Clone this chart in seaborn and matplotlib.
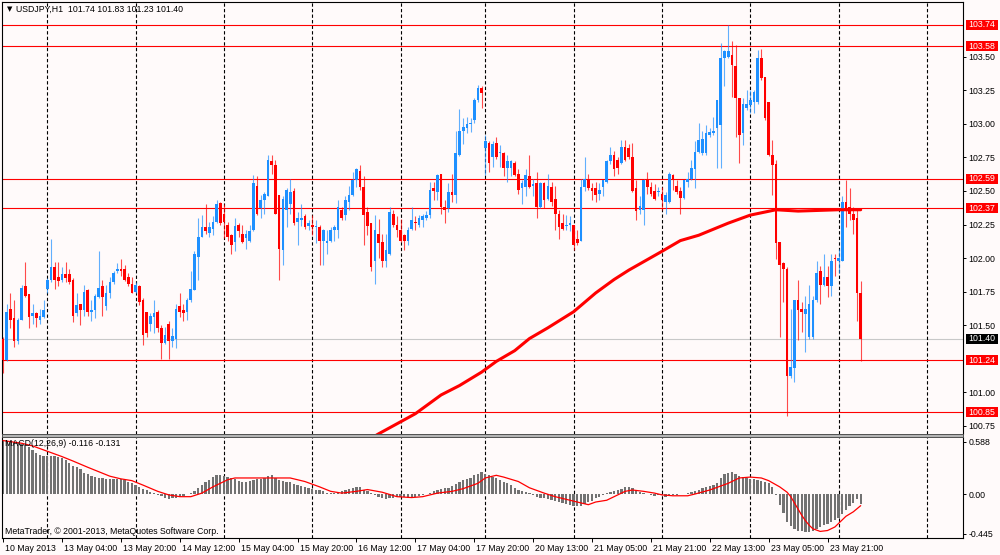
import numpy as np
import matplotlib
matplotlib.use("Agg")
import matplotlib.pyplot as plt
import seaborn as sns
from matplotlib.patches import Rectangle
from matplotlib.transforms import ScaledTranslation, blended_transform_factory

# USDJPY H1 candles, 10 May 11:00 .. 24 May 06:00
opens = [
    101.40, 101.24, 101.62, 101.55, 101.38, 101.54, 101.79, 101.73, 101.57, 101.59, 101.54, 101.56,
    101.77, 101.84, 101.93, 101.86, 101.84, 101.88, 101.88, 101.84, 101.59, 101.66, 101.61, 101.76,
    101.60, 101.61, 101.71, 101.79, 101.64, 101.74, 101.82, 101.90, 101.92, 101.92, 101.86, 101.81,
    101.75, 101.79, 101.69, 101.60, 101.51, 101.56, 101.60, 101.48, 101.37, 101.51, 101.38, 101.40,
    101.64, 101.61, 101.60, 101.69, 101.76, 102.01, 102.16, 102.23, 102.19, 102.22, 102.27, 102.41,
    102.33, 102.25, 102.17, 102.12, 102.25, 102.18, 102.15, 102.13, 102.21, 102.54, 102.37, 102.43,
    102.46, 102.72, 102.69, 102.47, 102.06, 102.36, 102.40, 102.50, 102.27, 102.28, 102.31, 102.24,
    102.25, 102.23, 102.23, 102.13, 102.11, 102.13, 102.21, 102.21, 102.36, 102.32, 102.42, 102.47,
    102.58, 102.65, 102.53, 102.34, 102.26, 101.98, 102.18, 102.12, 101.98, 102.03, 102.33, 102.25,
    102.21, 102.17, 102.13, 102.22, 102.27, 102.25, 102.28, 102.30, 102.32, 102.52, 102.49, 102.63,
    102.38, 102.37, 102.49, 102.47, 102.77, 102.95, 102.97, 103.00, 103.03, 103.18, 103.27, 102.82,
    102.86, 102.75, 102.86, 102.78, 102.78, 102.67, 102.67, 102.71, 102.63, 102.52, 102.53, 102.61,
    102.54, 102.56, 102.38, 102.56, 102.44, 102.53, 102.44, 102.33, 102.26, 102.24, 102.25, 102.25,
    102.14, 102.13, 102.53, 102.58, 102.52, 102.52, 102.48, 102.53, 102.57, 102.72, 102.77, 102.73,
    102.71, 102.83, 102.82, 102.75, 102.52, 102.36, 102.36, 102.58, 102.53, 102.50, 102.49, 102.48,
    102.42, 102.42, 102.62, 102.54, 102.50, 102.45, 102.57, 102.59, 102.66, 102.79, 102.78, 102.78,
    102.92, 102.93, 102.97, 102.99, 103.49, 103.50, 103.51, 103.43, 103.19, 102.93, 103.12, 103.14,
    103.16, 103.16, 103.49, 103.35, 103.16, 102.77, 102.70, 102.12, 101.96, 101.92, 101.12, 101.18,
    101.69, 101.62, 101.58, 101.41, 101.41, 101.69, 101.90, 101.80, 101.86, 101.79, 102.00, 101.98,
    101.98, 102.42, 102.38, 102.33, 102.30, 101.74,
]
highs = [
    101.41, 101.66, 101.74, 101.69, 101.55, 101.80, 101.97, 101.73, 101.66, 101.60, 101.62, 101.69,
    101.85, 102.14, 101.97, 101.97, 101.93, 101.97, 101.92, 101.85, 101.74, 101.66, 101.80, 101.77,
    101.69, 101.73, 102.05, 101.84, 101.80, 101.86, 101.90, 101.96, 101.99, 101.95, 101.89, 101.86,
    101.82, 101.80, 101.70, 101.60, 101.59, 101.69, 101.61, 101.50, 101.49, 101.53, 101.48, 101.66,
    101.74, 101.66, 101.70, 101.90, 102.05, 102.30, 102.32, 102.40, 102.27, 102.31, 102.43, 102.42,
    102.40, 102.27, 102.18, 102.30, 102.26, 102.25, 102.21, 102.25, 102.62, 102.61, 102.47, 102.49,
    102.77, 102.77, 102.73, 102.47, 102.46, 102.52, 102.59, 102.52, 102.34, 102.40, 102.33, 102.28,
    102.32, 102.28, 102.25, 102.22, 102.21, 102.23, 102.25, 102.43, 102.38, 102.46, 102.54, 102.64,
    102.67, 102.69, 102.61, 102.38, 102.26, 102.32, 102.29, 102.18, 102.18, 102.38, 102.36, 102.31,
    102.29, 102.18, 102.23, 102.38, 102.31, 102.32, 102.33, 102.35, 102.57, 102.57, 102.63, 102.63,
    102.43, 102.56, 102.63, 102.95, 103.11, 103.04, 103.05, 103.04, 103.19, 103.29, 103.28, 102.92,
    102.87, 102.87, 102.90, 102.84, 102.79, 102.77, 102.73, 102.72, 102.66, 102.58, 102.66, 102.77,
    102.59, 102.64, 102.57, 102.57, 102.63, 102.57, 102.54, 102.36, 102.33, 102.32, 102.31, 102.25,
    102.21, 102.59, 102.75, 102.63, 102.56, 102.57, 102.56, 102.58, 102.73, 102.83, 102.80, 102.75,
    102.88, 102.88, 102.85, 102.86, 102.58, 102.46, 102.59, 102.64, 102.57, 102.55, 102.53, 102.53,
    102.49, 102.64, 102.63, 102.58, 102.53, 102.58, 102.64, 102.73, 102.87, 103.01, 102.95, 102.99,
    102.97, 103.05, 103.18, 103.60, 103.55, 103.74, 103.62, 103.59, 103.19, 103.19, 103.25, 103.25,
    103.25, 103.55, 103.56, 103.35, 103.16, 102.88, 102.73, 102.12, 101.97, 101.93, 101.62, 101.69,
    101.84, 101.67, 101.72, 101.80, 101.72, 101.98, 101.94, 102.03, 101.94, 102.03, 102.03, 102.07,
    102.46, 102.58, 102.52, 102.38, 102.36, 101.83,
]
lows = [
    101.14, 101.23, 101.48, 101.34, 101.36, 101.54, 101.71, 101.48, 101.51, 101.49, 101.51, 101.55,
    101.74, 101.82, 101.77, 101.79, 101.82, 101.82, 101.81, 101.52, 101.57, 101.50, 101.57, 101.57,
    101.53, 101.55, 101.70, 101.57, 101.61, 101.70, 101.81, 101.89, 101.87, 101.83, 101.79, 101.74,
    101.74, 101.65, 101.35, 101.41, 101.46, 101.44, 101.45, 101.25, 101.36, 101.25, 101.34, 101.33,
    101.56, 101.53, 101.54, 101.67, 101.76, 101.84, 102.16, 102.18, 102.16, 102.17, 102.26, 102.25,
    102.15, 102.13, 102.03, 102.05, 102.16, 102.11, 102.07, 102.12, 102.20, 102.32, 102.30, 102.33,
    102.46, 102.63, 102.33, 101.84, 101.95, 102.23, 102.33, 102.25, 102.10, 102.24, 102.22, 102.21,
    102.17, 102.11, 101.95, 101.95, 102.03, 102.12, 102.13, 102.15, 102.28, 102.28, 102.36, 102.46,
    102.53, 102.51, 102.10, 102.17, 101.90, 101.81, 102.00, 101.93, 101.93, 102.02, 102.23, 102.16,
    102.12, 102.06, 102.10, 102.21, 102.21, 102.23, 102.23, 102.28, 102.30, 102.43, 102.43, 102.33,
    102.26, 102.34, 102.42, 102.41, 102.76, 102.85, 102.93, 102.94, 103.01, 103.16, 103.12, 102.62,
    102.64, 102.68, 102.74, 102.68, 102.61, 102.57, 102.61, 102.61, 102.48, 102.40, 102.46, 102.52,
    102.46, 102.30, 102.37, 102.37, 102.43, 102.39, 102.21, 102.14, 102.21, 102.21, 102.20, 102.06,
    102.10, 102.13, 102.50, 102.51, 102.43, 102.42, 102.43, 102.46, 102.56, 102.70, 102.61, 102.63,
    102.70, 102.72, 102.74, 102.49, 102.28, 102.33, 102.25, 102.48, 102.46, 102.43, 102.46, 102.36,
    102.33, 102.41, 102.51, 102.48, 102.33, 102.44, 102.53, 102.58, 102.52, 102.78, 102.77, 102.77,
    102.90, 102.92, 102.67, 102.67, 103.28, 103.49, 103.20, 102.90, 102.71, 102.84, 103.10, 103.08,
    103.08, 103.15, 103.33, 103.03, 102.76, 102.47, 101.99, 101.41, 101.67, 100.82, 101.11, 101.08,
    101.39, 101.45, 101.30, 101.40, 101.40, 101.67, 101.66, 101.79, 101.71, 101.72, 101.87, 101.89,
    101.98, 102.23, 102.28, 102.18, 101.53, 101.23,
]
closes = [
    101.24, 101.60, 101.54, 101.38, 101.54, 101.78, 101.72, 101.56, 101.59, 101.55, 101.57, 101.61,
    101.84, 101.93, 101.84, 101.83, 101.88, 101.85, 101.82, 101.57, 101.65, 101.61, 101.75, 101.60,
    101.61, 101.72, 101.78, 101.71, 101.74, 101.82, 101.89, 101.92, 101.90, 101.84, 101.81, 101.74,
    101.80, 101.67, 101.43, 101.44, 101.57, 101.59, 101.48, 101.37, 101.43, 101.38, 101.42, 101.62,
    101.60, 101.59, 101.69, 101.77, 102.03, 102.16, 102.23, 102.20, 102.23, 102.27, 102.40, 102.26,
    102.27, 102.16, 102.10, 102.24, 102.20, 102.12, 102.18, 102.20, 102.56, 102.33, 102.43, 102.48,
    102.73, 102.69, 102.33, 102.07, 102.44, 102.51, 102.49, 102.26, 102.30, 102.30, 102.23, 102.26,
    102.23, 102.24, 102.13, 102.21, 102.13, 102.21, 102.23, 102.38, 102.30, 102.43, 102.47, 102.58,
    102.66, 102.53, 102.32, 102.24, 101.93, 102.21, 102.11, 101.98, 102.06, 102.34, 102.25, 102.21,
    102.13, 102.13, 102.21, 102.28, 102.26, 102.30, 102.31, 102.32, 102.51, 102.50, 102.62, 102.38,
    102.36, 102.49, 102.47, 102.78, 102.95, 102.98, 103.00, 103.01, 103.18, 103.27, 103.23, 102.87,
    102.71, 102.85, 102.75, 102.79, 102.67, 102.72, 102.72, 102.62, 102.51, 102.56, 102.62, 102.53,
    102.55, 102.38, 102.56, 102.43, 102.54, 102.42, 102.33, 102.23, 102.22, 102.25, 102.26, 102.10,
    102.11, 102.53, 102.59, 102.52, 102.50, 102.47, 102.51, 102.58, 102.72, 102.77, 102.66, 102.67,
    102.83, 102.73, 102.75, 102.50, 102.35, 102.39, 102.58, 102.53, 102.48, 102.44, 102.50, 102.43,
    102.47, 102.63, 102.58, 102.49, 102.45, 102.58, 102.59, 102.67, 102.79, 102.88, 102.89, 102.93,
    102.94, 102.95, 103.18, 103.49, 103.54, 103.54, 103.44, 103.19, 102.92, 103.15, 103.15, 103.18,
    103.24, 103.49, 103.34, 103.04, 102.77, 102.69, 102.11, 101.95, 101.92, 101.12, 101.19, 101.69,
    101.61, 101.60, 101.62, 101.66, 101.69, 101.89, 101.80, 101.86, 101.79, 101.98, 101.99, 102.00,
    102.42, 102.36, 102.33, 102.28, 101.74, 101.40,
]

# moving average (red thick line), anchor points
ma_bars = [99, 102, 108, 112, 119, 124, 130, 134, 139, 143, 148, 155, 161, 166, 170,
           179, 184, 189, 197, 203, 210, 216, 227, 233]
ma_vals = [100.64, 100.69, 100.78, 100.84, 100.98, 101.05, 101.15, 101.23, 101.31, 101.40,
           101.48, 101.60, 101.74, 101.84, 101.91, 102.05, 102.13, 102.17, 102.26, 102.32,
           102.36, 102.35, 102.36, 102.36]

# MACD(12,26,9) histogram, one value per candle
macd_hist = [
    0.59, 0.59, 0.58, 0.58, 0.57, 0.56, 0.55, 0.53, 0.49, 0.46, 0.44, 0.43,
    0.43, 0.43, 0.43, 0.42, 0.40, 0.38, 0.35, 0.32, 0.30, 0.28, 0.24, 0.22,
    0.20, 0.19, 0.18, 0.18, 0.17, 0.17, 0.17, 0.17, 0.17, 0.16, 0.14, 0.12,
    0.10, 0.08, 0.06, 0.045, 0.02, 0.01, -0.01, -0.02, -0.04, -0.06, -0.05, -0.04,
    -0.03, -0.02, 0.00, 0.01, 0.03, 0.07, 0.10, 0.14, 0.16, 0.19, 0.21, 0.21,
    0.20, 0.19, 0.18, 0.17, 0.15, 0.14, 0.14, 0.15, 0.16, 0.17, 0.17, 0.18,
    0.20, 0.21, 0.18, 0.16, 0.15, 0.14, 0.13, 0.11, 0.10, 0.09, 0.08, 0.07,
    0.06, 0.045, 0.04, 0.03, 0.01, 0.01, 0.01, 0.02, 0.03, 0.05, 0.06, 0.07,
    0.08, 0.08, 0.05, 0.03, 0.01, -0.01, -0.03, -0.05, -0.06, -0.05, -0.04, -0.03,
    -0.03, -0.03, -0.04, -0.04, -0.03, -0.02, -0.01, 0.00, 0.01, 0.03, 0.045, 0.06,
    0.065, 0.07, 0.09, 0.11, 0.14, 0.16, 0.17, 0.18, 0.21, 0.23, 0.25, 0.23,
    0.21, 0.19, 0.18, 0.16, 0.14, 0.12, 0.10, 0.07, 0.05, 0.03, 0.02, 0.01,
    -0.01, -0.03, -0.04, -0.05, -0.06, -0.07, -0.08, -0.09, -0.10, -0.11, -0.12, -0.13,
    -0.14, -0.14, -0.11, -0.09, -0.08, -0.05, -0.03, -0.01, 0.01, 0.02, 0.03, 0.05,
    0.06, 0.08, 0.08, 0.07, 0.045, 0.02, 0.01, 0.00, -0.01, -0.02, -0.01, -0.01,
    -0.03, -0.01, -0.01, -0.01, 0.00, 0.00, 0.01, 0.02, 0.03, 0.05, 0.065, 0.08,
    0.09, 0.10, 0.12, 0.18, 0.22, 0.24, 0.25, 0.22, 0.20, 0.19, 0.18, 0.17,
    0.17, 0.16, 0.15, 0.14, 0.12, 0.08, -0.01, -0.12, -0.21, -0.31, -0.36, -0.39,
    -0.42, -0.42, -0.43, -0.43, -0.42, -0.39, -0.37, -0.35, -0.34, -0.31, -0.29, -0.27,
    -0.23, -0.18, -0.14, -0.10, -0.06, -0.116,
]
signal_bars = [0, 5, 8, 12, 16, 19, 23, 26, 29, 32, 35, 38, 42, 45, 48, 51, 54, 57, 61, 63,
               67, 72, 78, 82, 86, 89, 92, 96, 99, 103, 107, 111, 114, 118, 122, 125, 129, 131, 134, 136,
               140, 143, 147, 150, 154, 157, 159, 161, 164, 167, 169, 171, 174, 177, 179, 182, 186, 188, 192, 197,
               200, 203, 206, 208, 211, 213, 214, 215, 216, 217, 218, 219, 220, 222, 224, 226, 227, 229, 231, 233]
signal_vals = [0.60, 0.57, 0.54, 0.48, 0.42, 0.37, 0.30, 0.25, 0.20, 0.17, 0.15, 0.10, 0.03, -0.01, -0.03, -0.03, 0.01, 0.08, 0.16, 0.18,
               0.18, 0.18, 0.18, 0.14, 0.08, 0.03, 0.01, 0.03, 0.05, 0.02, -0.03, -0.04, -0.03, 0.01, 0.03, 0.06, 0.12, 0.18, 0.21, 0.19,
               0.14, 0.07, 0.01, -0.03, -0.07, -0.10, -0.12, -0.09, -0.07, -0.01, 0.03, 0.045, 0.03, 0.01, -0.01, -0.02, -0.02, 0.00, 0.045, 0.12,
               0.18, 0.19, 0.18, 0.15, 0.08, 0.02, -0.03, -0.10, -0.17, -0.24, -0.30, -0.35, -0.39, -0.42, -0.41, -0.37, -0.33, -0.25, -0.20, -0.131]

level_lines = [103.74, 103.58, 102.59, 102.37, 101.24, 100.85]
bid_price = 101.40
price_ticks = [100.75, 101.00, 101.50, 101.75, 102.00, 102.25, 102.50, 102.75, 103.00, 103.25, 103.50]
macd_ticks = [0.588, 0.0, -0.445]
macd_tick_labels = ["0.588", "0.00", "-0.445"]
day_starts = [12, 36, 60, 84, 108, 131, 155, 179, 203, 227, 251]
label_bars = [0, 16, 32, 48, 64, 80, 96, 112, 128, 144, 160, 176, 192, 208, 224]
time_labels = ["10 May 2013", "13 May 04:00", "13 May 20:00", "14 May 12:00", "15 May 04:00",
               "15 May 20:00", "16 May 12:00", "17 May 04:00", "17 May 20:00", "20 May 13:00",
               "21 May 05:00", "21 May 21:00", "22 May 13:00", "23 May 05:00", "23 May 21:00"]

sns.set_theme(style="white")
plt.rcParams["font.family"] = ["Liberation Sans", "DejaVu Sans"]

BG = "#FFFAFA"
UP = "#1E90FF"
DOWN = "#FF0000"
FS = 6.3
W, H = 1000, 555


def px_box(x0, y0, x1, y1):
    return [x0 / W, 1 - y1 / H, (x1 - x0) / W, (y1 - y0) / H]


fig = plt.figure(figsize=(10, 5.55), dpi=100, facecolor=BG)
ax = fig.add_axes(px_box(2, 2, 963, 434), facecolor=BG)
ax2 = fig.add_axes(px_box(2, 437, 963, 538), facecolor=BG)

o, h, l, c = map(np.array, (opens, highs, lows, closes))
x = np.arange(len(o))
up = c >= o
for mask, col in ((up, UP), (~up, DOWN)):
    ax.vlines(x[mask], l[mask], h[mask], color=col, lw=0.8, alpha=0.7, zorder=3)
    body = np.maximum(np.abs(c[mask] - o[mask]), 0.008)
    ax.bar(x[mask], body, bottom=np.minimum(o[mask], c[mask]), width=0.72,
           color=col, lw=0, zorder=4)

for lv in level_lines:
    ax.axhline(lv, color=DOWN, lw=0.8, zorder=2)
ax.axhline(bid_price, color="#C8C8C8", lw=0.8, zorder=1)

sns.lineplot(x=ma_bars, y=ma_vals, ax=ax, color=DOWN, lw=2.2, zorder=5)

for a in (ax, ax2):
    for d in day_starts:
        a.axvline(d, color="black", lw=0.8, ls=(0, (3, 2)), zorder=1)
    a.set_xlim(-0.3, 260.8)
    for s in a.spines.values():
        s.set_color("black")
        s.set_linewidth(0.8)

ax.set_ylim(100.689, 103.908)
ax.set_xticks([])
ax.set_xlabel("")
ax.set_ylabel("")
ax.yaxis.tick_right()
ax.set_yticks(price_ticks)
ax.set_yticklabels([f"{v:.2f}" for v in price_ticks])
ax.tick_params(axis="y", direction="out", length=2.5, width=0.7, pad=1.5,
               labelsize=FS, colors="black")
ax.spines["bottom"].set_visible(False)

# MACD panel
sns.barplot(x=x, y=macd_hist, ax=ax2, native_scale=True, color="#727272",
            width=0.62, errorbar=None, saturation=1, linewidth=0, zorder=2)
sns.lineplot(x=signal_bars, y=signal_vals, ax=ax2, color=DOWN, lw=0.9, zorder=3)
ax2.set_xlim(-0.3, 260.8)
ax2.set_ylim(-0.494, 0.640)
ax2.yaxis.tick_right()
ax2.set_yticks(macd_ticks)
ax2.set_yticklabels(macd_tick_labels)
ax2.tick_params(axis="y", direction="out", length=2.5, width=0.7, pad=1.5,
                labelsize=FS, colors="black")
ax2.set_xticks(label_bars)
ax2.set_xticklabels(time_labels, ha="left")
ax2.tick_params(axis="x", direction="out", length=3, width=0.7, pad=1,
                labelsize=FS, colors="black", bottom=True)
shift = ScaledTranslation(2 / 100, 0, fig.dpi_scale_trans)
for lbl in ax2.get_xticklabels():
    lbl.set_transform(lbl.get_transform() + shift)
ax2.spines["top"].set_visible(False)
ax2.set_xlabel("")
ax2.set_ylabel("")

# separator band between panels
fig.add_artist(Rectangle((2 / W, 1 - 437 / H), 961 / W, 3.5 / H,
                         transform=fig.transFigure, facecolor="#B4B4B4",
                         edgecolor="#505050", lw=0.7))

# price boxes on the right scale
tr = blended_transform_factory(ax.transAxes, ax.transData)
box_x = 964 / 961
box_w = 32 / 961
box_h = 10 / 134.2
for lv in level_lines + [bid_price]:
    fc = "black" if lv == bid_price else DOWN
    ax.add_patch(Rectangle((box_x, lv - box_h / 2), box_w, box_h,
                           transform=tr, facecolor=fc, edgecolor="none",
                           clip_on=False, zorder=6))
    ax.text(box_x + box_w / 2, lv, f"{lv:.2f}", transform=tr, ha="center",
            va="center", fontsize=FS, color="white", zorder=7, clip_on=False)

fig.text(7 / W, 1 - 9.5 / H, "\u25bc", fontsize=5, va="center", ha="left",
         family=["DejaVu Sans"], color="black")
fig.text(16 / W, 1 - 9.5 / H, "USDJPY,H1  101.74 101.83 101.23 101.40",
         fontsize=FS, va="center", ha="left", color="black")
fig.text(5 / W, 1 - 443 / H, "MACD(12,26,9) -0.116 -0.131", fontsize=FS,
         va="center", ha="left", color="black")
fig.text(5 / W, 1 - 532 / H, "MetaTrader, \u00a9 2001-2013, MetaQuotes Software Corp.",
         fontsize=FS, va="center", ha="left", color="black")

fig.savefig("out.png", dpi=100, facecolor=BG)
